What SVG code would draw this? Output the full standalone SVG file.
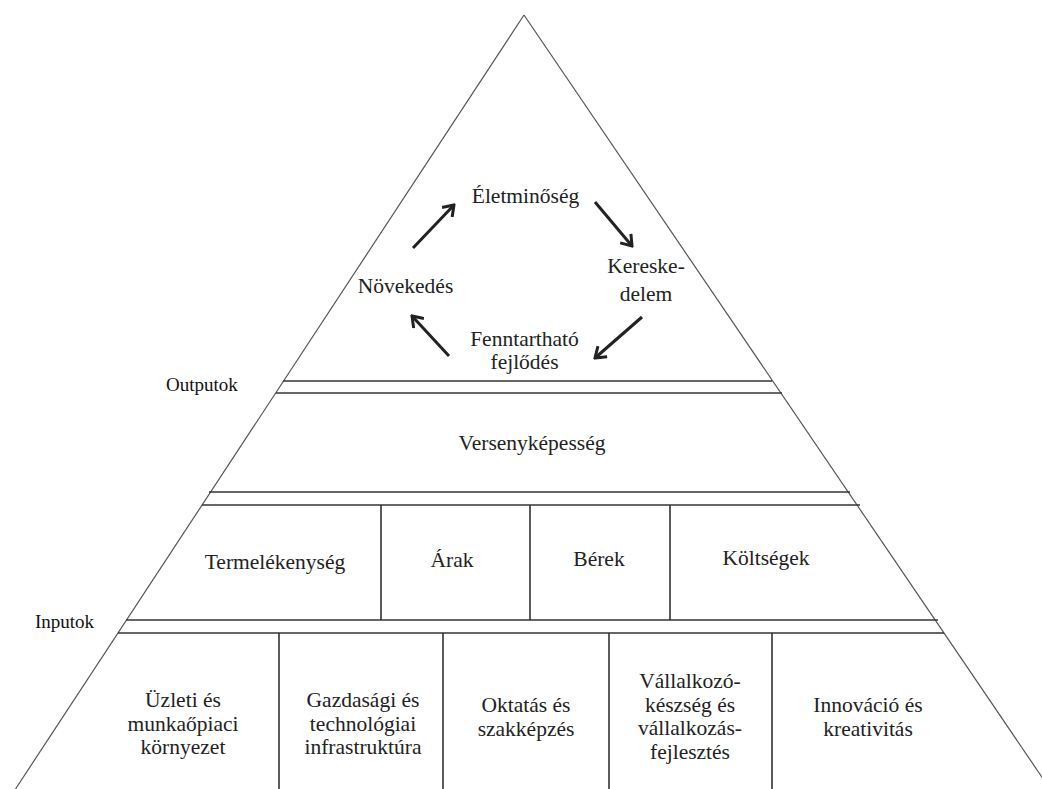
<svg xmlns="http://www.w3.org/2000/svg" width="1042" height="789" viewBox="0 0 1042 789">
  <style>
    .edge { stroke: #555; stroke-width: 1.2; fill: none; }
    .band { stroke: #333; stroke-width: 1.6; fill: none; }
    .div { stroke: #333; stroke-width: 1.6; fill: none; }
    .t { font-family: "Liberation Serif", "Times New Roman", serif; font-size: 21.5px; fill: #222; text-anchor: middle; }
    .lbl { font-family: "Liberation Serif", "Times New Roman", serif; font-size: 19px; fill: #111; text-anchor: start; }
    .arr { stroke: #222; stroke-width: 3; fill: none; marker-end: url(#ah); }
  </style>
  <defs>
    <marker id="ah" markerUnits="userSpaceOnUse" markerWidth="16" markerHeight="16" viewBox="0 0 16 16" refX="14" refY="8" orient="auto">
      <path d="M4,1 L14,8 L4,15" stroke="#222" stroke-width="3" fill="none" stroke-linejoin="miter"/>
    </marker>
  </defs>
  <rect width="1042" height="789" fill="#fff"/>

  <g id="pyramid">
    <line class="edge" x1="524" y1="15" x2="15.5" y2="789"/>
    <line class="edge" x1="524" y1="15" x2="1050" y2="789"/>
    <line class="band" x1="283" y1="381" x2="772" y2="381"/>
    <line class="band" x1="276" y1="393" x2="782" y2="393"/>
    <line class="band" x1="209" y1="492" x2="850" y2="492"/>
    <line class="band" x1="202" y1="505" x2="860" y2="505"/>
    <line class="band" x1="126" y1="620" x2="938" y2="620"/>
    <line class="band" x1="118" y1="633" x2="944" y2="633"/>
    <line class="div" x1="381" y1="505" x2="381" y2="620"/>
    <line class="div" x1="530" y1="505" x2="530" y2="620"/>
    <line class="div" x1="670" y1="505" x2="670" y2="620"/>
    <line class="div" x1="279" y1="633" x2="279" y2="789"/>
    <line class="div" x1="443" y1="633" x2="443" y2="789"/>
    <line class="div" x1="609" y1="633" x2="609" y2="789"/>
    <line class="div" x1="772" y1="633" x2="772" y2="789"/>
  </g>

  <g id="side-labels">
    <text class="lbl" x="166" y="391">Outputok</text>
    <text class="lbl" x="35" y="628">Inputok</text>
  </g>

  <g id="eletminoseg"><text class="t" x="525.5" y="203">Életminőség</text></g>
  <g id="kereskedelem"><text class="t" x="646" y="273"><tspan x="646" y="273">Kereske-</tspan><tspan x="646" y="301">delem</tspan></text></g>
  <g id="fenntarthato"><text class="t" x="524.5" y="346"><tspan x="524.5" y="346">Fenntartható</tspan><tspan x="524.5" y="369">fejlődés</tspan></text></g>
  <g id="novekedes"><text class="t" x="405.5" y="293">Növekedés</text></g>

  <g id="connectors">
    <line class="arr" x1="413" y1="248" x2="454" y2="205"/>
    <line class="arr" x1="595" y1="202" x2="632" y2="246"/>
    <line class="arr" x1="642" y1="317" x2="595" y2="358"/>
    <line class="arr" x1="449" y1="356" x2="412" y2="316"/>
  </g>

  <g id="versenykepesseg"><text class="t" x="532" y="450">Versenyképesség</text></g>

  <g id="termelekenyseg"><text class="t" x="275" y="569">Termelékenység</text></g>
  <g id="arak"><text class="t" x="452" y="567">Árak</text></g>
  <g id="berek"><text class="t" x="599" y="566">Bérek</text></g>
  <g id="koltsegek"><text class="t" x="766" y="565">Költségek</text></g>

  <g id="uzleti"><text class="t"><tspan x="183" y="707">Üzleti és</tspan><tspan x="183" y="730.5">munkaőpiaci</tspan><tspan x="183" y="754">környezet</tspan></text></g>
  <g id="gazdasagi"><text class="t"><tspan x="363" y="707">Gazdasági és</tspan><tspan x="363" y="730.5">technológiai</tspan><tspan x="363" y="754">infrastruktúra</tspan></text></g>
  <g id="oktatas"><text class="t"><tspan x="526" y="712">Oktatás és</tspan><tspan x="526" y="735.5">szakképzés</tspan></text></g>
  <g id="vallalkozo"><text class="t"><tspan x="690" y="688">Vállalkozó-</tspan><tspan x="690" y="711.5">készség és</tspan><tspan x="690" y="735">vállalkozás-</tspan><tspan x="690" y="758.5">fejlesztés</tspan></text></g>
  <g id="innovacio"><text class="t"><tspan x="868" y="712">Innováció és</tspan><tspan x="868" y="735.5">kreativitás</tspan></text></g>
</svg>
